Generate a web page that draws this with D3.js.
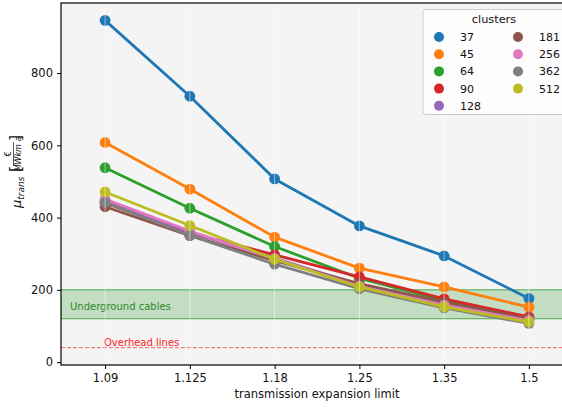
<!DOCTYPE html>
<html>
<head>
<meta charset="utf-8">
<script src="https://cdn.jsdelivr.net/npm/d3@7"></script>
<style>
  html, body { margin: 0; padding: 0; background: #ffffff; }
  svg { display: block; font-family: "DejaVu Sans", sans-serif; }
</style>
</head>
<body>
<svg id="chart" width="562" height="407"></svg>
<script>
// Transmission expansion limits (x categories)
const limits = ["1.09", "1.125", "1.18", "1.25", "1.35", "1.5"];

// Cluster counts (series) and their colours
const clusters = ["37", "45", "64", "90", "128", "181", "256", "362", "512"];
const colors = ["#1f77b4", "#ff7f0e", "#2ca02c", "#d62728", "#9467bd",
                "#8c564b", "#e377c2", "#7f7f7f", "#bcbd22"];

// Transmission cost per cluster count, one value per limit
const v37  = [946, 736, 507, 377, 294, 176];
const v45  = [608, 479, 346, 260, 208, 152];
const v64  = [538, 426, 320, 232, 171, 123];
const v90  = [440, 358, 297, 236, 175, 125];
const v128 = [445, 360, 288, 213, 161, 118];
const v181 = [430, 350, 281, 217, 166, 120];
const v256 = [451, 363, 286, 210, 158, 115];
const v362 = [442, 351, 271, 203, 150, 107];
const v512 = [471, 378, 285, 208, 153, 111];
const seriesValues = [v37, v45, v64, v90, v128, v181, v256, v362, v512];

// Reference bands
const undergroundBand = [120, 200];
const overheadLevel = 40;
const yTicks = [0, 200, 400, 600, 800];

const svg = d3.select("#chart");
const pLeft = 61, pRight = 573, pTop = 3, pBottom = 365;

const x = d3.scalePoint().domain(limits).range([pLeft, pRight]).padding(0.52);
const y = d3.scaleLinear().domain([-8, 994]).range([pBottom, pTop]);

// Plot background
svg.append("rect")
  .attr("x", pLeft).attr("y", pTop)
  .attr("width", pRight - pLeft).attr("height", pBottom - pTop)
  .attr("fill", "#f4f4f4");

// Underground cable cost band
svg.append("rect")
  .attr("x", pLeft).attr("width", pRight - pLeft)
  .attr("y", y(undergroundBand[1]))
  .attr("height", y(undergroundBand[0]) - y(undergroundBand[1]))
  .attr("fill", "#008000").attr("fill-opacity", 0.2);
undergroundBand.forEach(v => {
  svg.append("line")
    .attr("x1", pLeft).attr("x2", pRight)
    .attr("y1", y(v)).attr("y2", y(v))
    .attr("stroke", "#2ca02c").attr("stroke-width", 1).attr("opacity", 0.85);
});
svg.append("text")
  .attr("x", 70).attr("y", 310)
  .attr("font-size", 10).attr("fill", "#2a8a2a")
  .text("Underground cables");

// Overhead line cost level
svg.append("line")
  .attr("x1", pLeft).attr("x2", pRight)
  .attr("y1", y(overheadLevel)).attr("y2", y(overheadLevel))
  .attr("stroke", "#ff0000").attr("stroke-opacity", 0.6)
  .attr("stroke-width", 1).attr("stroke-dasharray", "4,2");
svg.append("text")
  .attr("x", 104).attr("y", 345.5)
  .attr("font-size", 10).attr("fill", "#ff2020")
  .text("Overhead lines");

// Series lines and markers
const line = d3.line().x((d, i) => x(limits[i])).y(d => y(d));
clusters.forEach((c, k) => {
  const g = svg.append("g");
  g.append("path")
    .attr("d", line(seriesValues[k]))
    .attr("fill", "none")
    .attr("stroke", colors[k])
    .attr("stroke-width", 2.8)
    .attr("stroke-linejoin", "round");
  g.selectAll("circle")
    .data(seriesValues[k])
    .join("circle")
    .attr("cx", (d, i) => x(limits[i]))
    .attr("cy", d => y(d))
    .attr("r", 5.4)
    .attr("fill", colors[k]);
});

// Faint vertical grid at each category
svg.append("g").selectAll("line")
  .data(limits)
  .join("line")
  .attr("x1", d => x(d)).attr("x2", d => x(d))
  .attr("y1", pTop).attr("y2", pBottom)
  .attr("stroke", "#ffffff").attr("stroke-opacity", 0.5).attr("stroke-width", 1);

// Frame
svg.append("rect")
  .attr("x", pLeft).attr("y", pTop)
  .attr("width", pRight - pLeft).attr("height", pBottom - pTop)
  .attr("fill", "none").attr("stroke", "#000").attr("stroke-width", 1.2);

// Axes
const xAxis = svg.append("g")
  .attr("transform", `translate(0,${pBottom})`)
  .call(d3.axisBottom(x).tickSize(4).tickPadding(5));
const yAxis = svg.append("g")
  .attr("transform", `translate(${pLeft},0)`)
  .call(d3.axisLeft(y).tickValues(yTicks).tickSize(4).tickPadding(4));
[xAxis, yAxis].forEach(a => {
  a.select(".domain").remove();
  a.selectAll("text").attr("font-size", 11.5).attr("fill", "#111")
    .attr("font-family", "DejaVu Sans, sans-serif");
  a.selectAll("line").attr("stroke", "#000");
});

// X axis title
svg.append("text")
  .attr("x", (pLeft + pRight) / 2).attr("y", 398)
  .attr("text-anchor", "middle").attr("font-size", 11.5).attr("fill", "#111")
  .text("transmission expansion limit");

// Y axis title: mu_trans [€ / (MW km a)]
const yl = svg.append("g").attr("transform", "translate(0,0) rotate(-90)");
const mu = yl.append("text").attr("x", -208).attr("y", 21)
  .attr("font-size", 13).attr("fill", "#111");
mu.append("tspan").attr("font-style", "italic").text("μ");
mu.append("tspan").attr("font-style", "italic").attr("font-size", 9).attr("dy", 2.5).text("trans");
yl.append("text").attr("x", -172).attr("y", 21)
  .attr("font-size", 16).attr("fill", "#111").text("[");
yl.append("text").attr("x", -154).attr("y", 11)
  .attr("text-anchor", "middle").attr("font-size", 8).attr("fill", "#111").text("€");
yl.append("line").attr("x1", -166).attr("x2", -142).attr("y1", 13.5).attr("y2", 13.5)
  .attr("stroke", "#111").attr("stroke-width", 0.7);
yl.append("text").attr("x", -154).attr("y", 20.5)
  .attr("text-anchor", "middle").attr("font-size", 8).attr("font-style", "italic")
  .attr("fill", "#111").text("MWkm a");
yl.append("text").attr("x", -141).attr("y", 21)
  .attr("font-size", 16).attr("fill", "#111").text("]");

// Legend
const lg = svg.append("g");
lg.append("rect")
  .attr("x", 423).attr("y", 9.5).attr("width", 150).attr("height", 105)
  .attr("rx", 3).attr("fill", "#ffffff").attr("fill-opacity", 0.8)
  .attr("stroke", "#cccccc").attr("stroke-width", 1);
lg.append("text").attr("x", 494).attr("y", 22.5)
  .attr("text-anchor", "middle").attr("font-size", 11.3).attr("fill", "#111")
  .text("clusters");
clusters.forEach((c, k) => {
  const col = k < 5 ? 0 : 1;
  const row = k < 5 ? k : k - 5;
  const mx = col === 0 ? 439 : 518;
  const my = 37 + row * 17.2;
  lg.append("circle").attr("cx", mx).attr("cy", my).attr("r", 5).attr("fill", colors[k]);
  lg.append("text").attr("x", mx + 21).attr("y", my + 4)
    .attr("font-size", 11).attr("fill", "#111").text(c);
});
</script>
</body>
</html>
